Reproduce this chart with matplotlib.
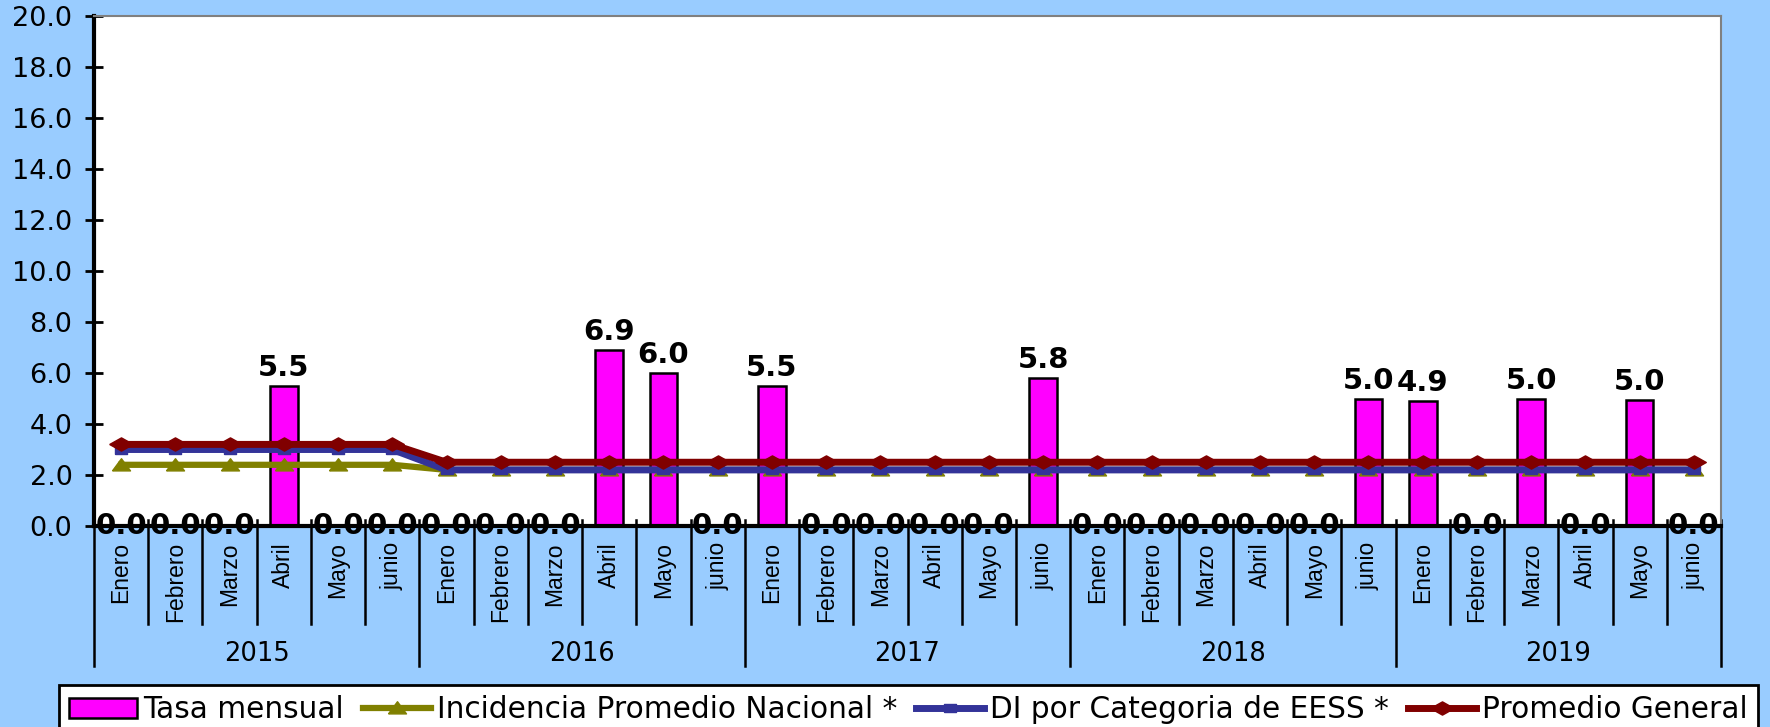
import matplotlib.pyplot as plt
from matplotlib.patches import Patch
from matplotlib.lines import Line2D

plt.rcParams['font.family'] = ['DejaVu Sans']

years = ["2015", "2016", "2017", "2018", "2019"]
months = ["Enero", "Febrero", "Marzo", "Abril", "Mayo", "junio"]

tasa_mensual = [0.0, 0.0, 0.0, 5.5, 0.0, 0.0,
                0.0, 0.0, 0.0, 6.9, 6.0, 0.0,
                5.5, 0.0, 0.0, 0.0, 0.0, 5.8,
                0.0, 0.0, 0.0, 0.0, 0.0, 5.0,
                4.9, 0.0, 5.0, 0.0, 4.95, 0.0]
incidencia_nacional = [2.4] * 6 + [2.2] * 24
di_categoria = [3.0] * 6 + [2.2] * 24
promedio_general = [3.2] * 6 + [2.5] * 24

BG = '#99CCFF'
W, H = 1770, 727
fig = plt.figure(figsize=(W / 100, H / 100), dpi=100, facecolor=BG)
ax_l, ax_r, ax_t, ax_b = 94, 1721, 16, 526
ax = fig.add_axes([ax_l / W, 1 - ax_b / H, (ax_r - ax_l) / W, (ax_b - ax_t) / H])
ax.set_facecolor('white')
ah = ax_b - ax_t

# flattened marker shapes
diamond = [(-1, 0), (0, 0.56), (1, 0), (0, -0.56), (-1, 0)]
triangle = [(-1, -0.6), (1, -0.6), (0, 0.75), (-1, -0.6)]
square = [(-1, -0.6), (1, -0.6), (1, 0.6), (-1, 0.6), (-1, -0.6)]

styles = {
    'nac': dict(color='#808000', lw=4.5, marker=triangle, ms=13),
    'cat': dict(color='#333399', lw=5, marker=square, ms=9),
    'gen': dict(color='#800000', lw=5, marker=diamond, ms=17),
}

n = len(tasa_mensual)
x = list(range(n))

ax.bar(x, tasa_mensual, width=0.51, color='#FF00FF', edgecolor='black', linewidth=1.8, zorder=2)
ax.plot(x, incidencia_nacional, zorder=3, **styles['nac'])
ax.plot(x, di_categoria, zorder=4, **styles['cat'])
ax.plot(x, promedio_general, zorder=5, **styles['gen'])

for i, v in enumerate(tasa_mensual):
    dy = 7 if v > 0 else -5.5
    ax.annotate(f"{v:.1f}", xy=(i, v), xytext=(0, dy), textcoords='offset points',
                ha='center', va='baseline', fontsize=21, fontweight='bold', zorder=6,
                annotation_clip=False)

ax.set_xlim(-0.5, n - 0.5)
ax.set_ylim(0, 20)
ax.set_yticks(range(0, 21, 2))
ax.set_yticklabels([f"{t:.1f}" for t in range(0, 21, 2)], fontsize=19.5)
ax.tick_params(axis='y', direction='inout', length=13, width=2, pad=9)
ax.set_xticks([])

for side in ('left', 'bottom'):
    ax.spines[side].set_linewidth(3)
    ax.spines[side].set_color('black')
for side in ('top', 'right'):
    ax.spines[side].set_linewidth(1.5)
    ax.spines[side].set_color('#808080')

# category axis: month / year separators and labels
tr = ax.get_xaxis_transform()
for b in range(n + 1):
    long_line = b % 6 == 0
    y0 = 6 / ah
    y1 = -(666 - ax_b) / ah if long_line else -(624 - ax_b) / ah
    ax.plot([b - 0.5, b - 0.5], [y0, y1], color='black', lw=1.8, transform=tr, clip_on=False)
for i in x:
    ax.text(i, -(542 - ax_b) / ah, months[i % 6], rotation=90, ha='center', va='top',
            fontsize=16.5, family=['Liberation Sans'], transform=tr)
for k, yr in enumerate(years):
    ax.text(k * 6 + 2.5, -(654 - ax_b) / ah, yr, ha='center', va='center', fontsize=18.5, transform=tr)

handles = [
    Patch(facecolor='#FF00FF', edgecolor='black', linewidth=1.8),
    Line2D([], [], **styles['nac']),
    Line2D([], [], **styles['cat']),
    Line2D([], [], **styles['gen']),
]
labels = ["Tasa mensual", "Incidencia Promedio Nacional *", "DI por Categoria de EESS *", "Promedio General"]
leg = fig.legend(handles, labels, loc='upper left', ncol=4, mode='expand',
                 bbox_to_anchor=(59 / W, 0, (1758 - 59) / W, 1 - 685 / H),
                 fontsize=21.3, frameon=True, fancybox=False, edgecolor='black', framealpha=1,
                 handlelength=2.3, handletextpad=0.2, columnspacing=0.4,
                 borderpad=0.35, borderaxespad=0)
leg.get_frame().set_linewidth(2)
leg.get_frame().set_facecolor('white')

fig.savefig('out.png', dpi=100, facecolor=BG)
